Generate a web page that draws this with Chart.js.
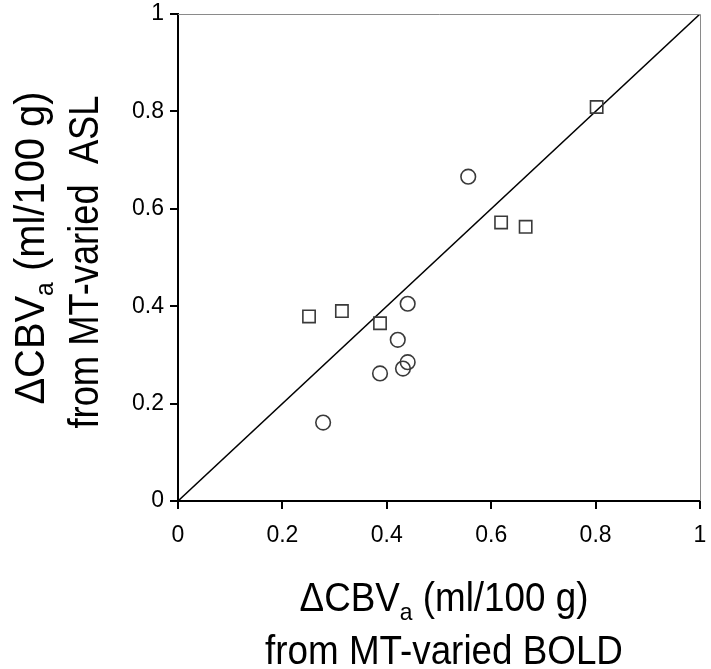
<!DOCTYPE html>
<html>
<head>
<meta charset="utf-8">
<script src="https://cdn.jsdelivr.net/npm/chart.js@4.4.1/dist/chart.umd.min.js"></script>
<style>
  body { margin: 0; background: #fff; }
  #wrap { width: 711px; height: 669px; position: relative; }
</style>
</head>
<body>
<div id="wrap"><canvas id="cbvChart"></canvas></div>
<script>
// values
const squareBold = [0.251, 0.314, 0.387, 0.619, 0.666, 0.802];
const squareAsl  = [0.379, 0.390, 0.365, 0.572, 0.563, 0.809];
const circleBold = [0.278, 0.387, 0.431, 0.440, 0.421, 0.440, 0.556];
const circleAsl  = [0.161, 0.262, 0.272, 0.285, 0.331, 0.405, 0.666];
const identityX = [0, 1];
const identityY = [0, 1];
const tickValues = [0, 0.2, 0.4, 0.6, 0.8, 1];
const tickLabels = ['0', '0.2', '0.4', '0.6', '0.8', '1'];

const FONT = '"Liberation Sans", Arial, Helvetica, sans-serif';

function toPoints(xs, ys) {
    return xs.map((x, i) => ({ x: x, y: ys[i] }));
}

function tickLabel(value) {
    const i = tickValues.findIndex(v => Math.abs(v - value) < 1e-6);
    return i >= 0 ? tickLabels[i] : '';
}

// draws "ΔCBVa (ml/100 g)" with subscript a, centered on 0 at baseline 0
function drawCbvTitle(ctx, size) {
    const main = '\u0394CBV', sub = 'a', rest = ' (ml/100 g)';
    const subSize = size * 0.62;
    ctx.font = size + 'px ' + FONT;
    const w1 = ctx.measureText(main).width;
    const w3 = ctx.measureText(rest).width;
    ctx.font = subSize + 'px ' + FONT;
    const w2 = ctx.measureText(sub).width;
    let x = -(w1 + w2 + w3) / 2;
    ctx.textAlign = 'left';
    ctx.textBaseline = 'alphabetic';
    ctx.font = size + 'px ' + FONT;
    ctx.fillText(main, x, 0);
    x += w1;
    ctx.font = subSize + 'px ' + FONT;
    ctx.fillText(sub, x, size * 0.22);
    x += w2;
    ctx.font = size + 'px ' + FONT;
    ctx.fillText(rest, x, 0);
}

function drawPlain(ctx, text, size) {
    ctx.font = size + 'px ' + FONT;
    ctx.textAlign = 'center';
    ctx.textBaseline = 'alphabetic';
    ctx.fillText(text, 0, 0);
}

const titlesPlugin = {
    id: 'titles',
    afterDraw(chart) {
        const ctx = chart.ctx;
        const area = chart.chartArea;
        const cx = (area.left + area.right) / 2;

        // top and right frame lines (grey)
        ctx.save();
        ctx.strokeStyle = '#8a8a8a';
        ctx.lineWidth = 1;
        ctx.beginPath();
        ctx.moveTo(area.left, area.top + 0.5);
        ctx.lineTo(area.right + 0.5, area.top + 0.5);
        ctx.lineTo(area.right + 0.5, area.bottom);
        ctx.stroke();
        ctx.restore();

        ctx.save();
        ctx.fillStyle = '#000';
        // x title
        ctx.save();
        ctx.translate(cx + 5, 611);
        ctx.scale(0.92, 1);
        drawCbvTitle(ctx, 40);
        ctx.restore();
        ctx.save();
        ctx.translate(cx + 5, 664);
        ctx.scale(0.92, 1);
        drawPlain(ctx, 'from MT-varied BOLD', 40);
        ctx.restore();

        // y title
        ctx.save();
        ctx.translate(44, 248);
        ctx.rotate(-Math.PI / 2);
        ctx.scale(0.95, 1);
        drawCbvTitle(ctx, 42);
        ctx.restore();
        ctx.save();
        ctx.translate(98, 262);
        ctx.rotate(-Math.PI / 2);
        ctx.scale(0.865, 1);
        drawPlain(ctx, 'from MT-varied  ASL', 42);
        ctx.restore();
        ctx.restore();
    }
};

const ctxCbv = document.getElementById('cbvChart').getContext('2d');

new Chart(ctxCbv, {
    type: 'scatter',
    data: {
        datasets: [
            {
                label: 'identity',
                data: toPoints(identityX, identityY),
                showLine: true,
                borderColor: '#000',
                borderWidth: 1.5,
                pointRadius: 0,
                order: 3
            },
            {
                label: 'squares',
                data: toPoints(squareBold, squareAsl),
                pointStyle: 'rect',
                pointRadius: 8.7,
                borderColor: '#3a3a3a',
                backgroundColor: 'rgba(255,255,255,0)',
                borderWidth: 1.6,
                order: 1
            },
            {
                label: 'circles',
                data: toPoints(circleBold, circleAsl),
                pointStyle: 'circle',
                pointRadius: 7.3,
                borderColor: '#3a3a3a',
                backgroundColor: 'rgba(255,255,255,0)',
                borderWidth: 1.6,
                order: 2
            }
        ]
    },
    options: {
        responsive: true,
        maintainAspectRatio: false,
        animation: false,
        layout: { padding: { top: 14, right: 11, left: 0, bottom: 0 } },
        plugins: {
            legend: { display: false },
            tooltip: { enabled: false }
        },
        scales: {
            x: {
                type: 'linear',
                min: 0,
                max: 1,
                afterFit: s => { s.height = 168; s.paddingLeft = 0; s.paddingRight = 0; },
                afterBuildTicks: s => { s.ticks = tickValues.map(v => ({ value: v })); },
                border: { color: '#000', width: 2 },
                grid: { drawOnChartArea: false, drawTicks: true, tickLength: 8, color: '#000', lineWidth: 2 },
                ticks: {
                    color: '#000',
                    padding: 13,
                    maxRotation: 0,
                    font: { family: FONT, size: 23 },
                    callback: v => tickLabel(v)
                }
            },
            y: {
                type: 'linear',
                min: 0,
                max: 1,
                afterFit: s => { s.width = 178; s.paddingTop = 0; s.paddingBottom = 0; },
                afterBuildTicks: s => { s.ticks = tickValues.map(v => ({ value: v })); },
                border: { color: '#000', width: 2 },
                grid: { drawOnChartArea: false, drawTicks: true, tickLength: 8, color: '#000', lineWidth: 2 },
                ticks: {
                    color: '#000',
                    padding: 6,
                    font: { family: FONT, size: 23 },
                    callback: v => tickLabel(v)
                }
            }
        }
    },
    plugins: [titlesPlugin]
});
</script>
</body>
</html>
